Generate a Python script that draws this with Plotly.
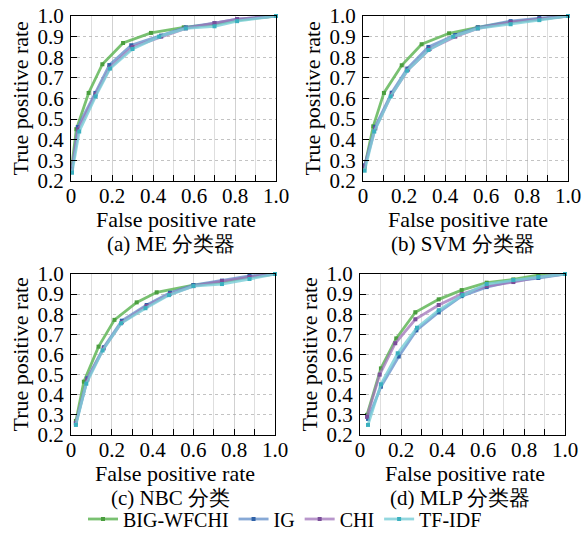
import plotly.graph_objects as go

# page body margin is removed (see post_script), so figure == window
OFF = 0
W, H = 587, 537

series_names = ["BIG-WFCHI", "IG", "CHI", "TF-IDF"]
line_colors = ["rgba(98,182,88,0.85)", "rgba(95,140,200,0.75)", "rgba(160,115,185,0.75)", "rgba(120,205,215,0.8)"]
marker_colors = ["#4a9e3e", "#2f62a8", "#7b4f99", "#3bb0bf"]

me_fpr = {
    "BIG-WFCHI": [0.005, 0.026, 0.086, 0.153, 0.254, 0.39, 0.55, 0.70, 0.81, 1.0],
    "IG":        [0.005, 0.033, 0.119, 0.187, 0.294, 0.44, 0.56, 0.70, 0.81, 1.0],
    "CHI":       [0.005, 0.035, 0.120, 0.190, 0.300, 0.44, 0.56, 0.70, 0.81, 1.0],
    "TF-IDF":    [0.005, 0.040, 0.120, 0.190, 0.300, 0.43, 0.56, 0.70, 0.81, 1.0],
}
me_tpr = {
    "BIG-WFCHI": [0.28, 0.451, 0.627, 0.766, 0.869, 0.918, 0.945, 0.960, 0.980, 1.0],
    "IG":        [0.25, 0.462, 0.627, 0.762, 0.858, 0.905, 0.945, 0.965, 0.985, 1.0],
    "CHI":       [0.26, 0.450, 0.620, 0.750, 0.850, 0.900, 0.940, 0.965, 0.985, 1.0],
    "TF-IDF":    [0.24, 0.440, 0.610, 0.745, 0.840, 0.900, 0.940, 0.950, 0.975, 1.0],
}
svm_fpr = {
    "BIG-WFCHI": [0.008, 0.050, 0.102, 0.189, 0.286, 0.42, 0.56, 0.72, 0.86, 1.0],
    "IG":        [0.008, 0.059, 0.140, 0.216, 0.319, 0.45, 0.56, 0.72, 0.86, 1.0],
    "CHI":       [0.008, 0.060, 0.140, 0.220, 0.325, 0.45, 0.56, 0.72, 0.86, 1.0],
    "TF-IDF":    [0.008, 0.055, 0.135, 0.215, 0.320, 0.44, 0.56, 0.72, 0.86, 1.0],
}
svm_tpr = {
    "BIG-WFCHI": [0.27, 0.465, 0.627, 0.761, 0.863, 0.916, 0.945, 0.970, 0.985, 1.0],
    "IG":        [0.276, 0.462, 0.628, 0.745, 0.850, 0.908, 0.945, 0.975, 0.990, 1.0],
    "CHI":       [0.27, 0.455, 0.620, 0.740, 0.840, 0.900, 0.940, 0.970, 0.985, 1.0],
    "TF-IDF":    [0.25, 0.440, 0.610, 0.735, 0.835, 0.900, 0.940, 0.960, 0.980, 1.0],
}
nbc_fpr = {
    "BIG-WFCHI": [0.024, 0.063, 0.135, 0.213, 0.322, 0.42, 0.60, 0.74, 0.875, 1.0],
    "IG":        [0.024, 0.080, 0.161, 0.249, 0.371, 0.485, 0.60, 0.74, 0.875, 1.0],
    "CHI":       [0.024, 0.080, 0.160, 0.250, 0.370, 0.485, 0.60, 0.74, 0.875, 1.0],
    "TF-IDF":    [0.024, 0.075, 0.155, 0.245, 0.365, 0.480, 0.60, 0.74, 0.875, 1.0],
}
nbc_tpr = {
    "BIG-WFCHI": [0.27, 0.465, 0.639, 0.772, 0.859, 0.909, 0.945, 0.960, 0.985, 1.0],
    "IG":        [0.258, 0.482, 0.636, 0.768, 0.846, 0.907, 0.945, 0.967, 0.990, 1.0],
    "CHI":       [0.26, 0.475, 0.630, 0.760, 0.840, 0.900, 0.940, 0.965, 0.985, 1.0],
    "TF-IDF":    [0.25, 0.455, 0.620, 0.755, 0.830, 0.895, 0.940, 0.950, 0.975, 1.0],
}
mlp_fpr = {
    "BIG-WFCHI": [0.034, 0.102, 0.177, 0.270, 0.384, 0.496, 0.618, 0.748, 0.87, 1.0],
    "IG":        [0.039, 0.102, 0.189, 0.275, 0.384, 0.496, 0.618, 0.748, 0.87, 1.0],
    "CHI":       [0.034, 0.096, 0.172, 0.270, 0.384, 0.496, 0.618, 0.748, 0.87, 1.0],
    "TF-IDF":    [0.039, 0.102, 0.184, 0.278, 0.384, 0.500, 0.618, 0.748, 0.87, 1.0],
}
mlp_tpr = {
    "BIG-WFCHI": [0.30, 0.531, 0.680, 0.810, 0.874, 0.920, 0.957, 0.973, 0.995, 1.0],
    "IG":        [0.28, 0.440, 0.590, 0.720, 0.810, 0.890, 0.935, 0.965, 0.980, 1.0],
    "CHI":       [0.29, 0.500, 0.656, 0.775, 0.846, 0.900, 0.940, 0.960, 0.985, 1.0],
    "TF-IDF":    [0.25, 0.452, 0.606, 0.733, 0.820, 0.895, 0.950, 0.970, 0.985, 1.0],
}

captions = ["(a) ME 分类器", "(b) SVM 分类器", "(c) NBC 分类", "(d) MLP 分类器"]
x_title = "False positive rate"
y_title = "True positive rate"
x_tickvals = [0, 0.2, 0.4, 0.6, 0.8, 1.0]
x_ticktext = ["0", "0.2", "0.4", "0.6", "0.8", "1.0"]
y_tickvals = [0.2, 0.3, 0.4, 0.5, 0.6, 0.7, 0.8, 0.9, 1.0]
y_ticktext = ["0.2", "0.3", "0.4", "0.5", "0.6", "0.7", "0.8", "0.9", "1.0"]

panels = [(me_fpr, me_tpr), (svm_fpr, svm_tpr), (nbc_fpr, nbc_tpr), (mlp_fpr, mlp_tpr)]
# panel boxes in window pixels: left, right, top, bottom
boxes = [(71, 276, 16, 181), (363, 568, 16, 181), (71, 275, 274, 435), (360, 565, 274, 435)]

FONT = "Liberation Serif, Times New Roman, serif"
TICK_SIZE = 21
TITLE_SIZE = 22
CAP_SIZE = 21
LEG_SIZE = 20

def px(x):
    return (x - OFF) / W

def py(y):
    return 1 - (y - OFF) / H

fig = go.Figure()
layout_axes = {}
annotations = []
for i, ((fx, ty), (l, r, t, b)) in enumerate(zip(panels, boxes)):
    n = i + 1
    xa = "xaxis" if n == 1 else f"xaxis{n}"
    ya = "yaxis" if n == 1 else f"yaxis{n}"
    xr = "x" if n == 1 else f"x{n}"
    yr = "y" if n == 1 else f"y{n}"
    for k, name in enumerate(series_names):
        fig.add_trace(go.Scatter(
            x=fx[name], y=ty[name], mode="lines+markers", name=name,
            xaxis=xr, yaxis=yr, showlegend=(i == 0), cliponaxis=False,
            line=dict(color=line_colors[k], width=2.8),
            marker=dict(symbol="square", size=4, color=marker_colors[k]),
        ))
    layout_axes[xa] = dict(
        domain=[px(l), px(r)], range=[0, 1], anchor=yr,
        tickvals=x_tickvals, ticktext=x_ticktext, ticks="inside", ticklen=6,
        tickcolor="black", showline=True, linecolor="black", linewidth=1.2, mirror=True,
        showgrid=True, gridcolor="rgba(200,200,200,0.6)", gridwidth=1,
        minor=dict(dtick=0.1, tick0=0, ticks="inside", ticklen=6, tickcolor="black",
                   showgrid=True, gridcolor="rgba(200,200,200,0.6)"),
        tickfont=dict(family=FONT, size=TICK_SIZE, color="black"), zeroline=False,
        ticklabelstandoff=-4, ticklabeloverflow="allow", automargin=False,
    )
    layout_axes[ya] = dict(
        domain=[py(b), py(t)], range=[0.2, 1.0], anchor=xr,
        tickvals=y_tickvals, ticktext=y_ticktext, ticks="inside", ticklen=6,
        tickcolor="black", showline=True, linecolor="black", linewidth=1.2, mirror=True,
        showgrid=True, gridcolor="rgba(170,170,170,0.7)", griddash="dot", gridwidth=1,
        tickfont=dict(family=FONT, size=TICK_SIZE, color="black"), zeroline=False,
        ticklabelstandoff=2, ticklabeloverflow="allow", automargin=False,
    )
    cx = (l + r) / 2
    annotations.append(dict(text=x_title, x=px(cx + 2), y=py(b + 38), xref="paper", yref="paper",
                            showarrow=False, xanchor="center", yanchor="middle",
                            font=dict(family=FONT, size=TITLE_SIZE, color="black")))
    annotations.append(dict(text=captions[i], x=px(cx - 3), y=py(b + 63), xref="paper", yref="paper",
                            showarrow=False, xanchor="center", yanchor="middle",
                            font=dict(family=FONT, size=CAP_SIZE, color="black")))
    annotations.append(dict(text=y_title, x=px(l - 51), y=py((t + b) / 2), xref="paper", yref="paper",
                            showarrow=False, xanchor="center", yanchor="middle", textangle=-90,
                            font=dict(family=FONT, size=TITLE_SIZE, color="black")))

fig.update_layout(
    width=W, height=H, margin=dict(l=0, r=0, t=0, b=0, autoexpand=False),
    paper_bgcolor="white", plot_bgcolor="white",
    font=dict(family=FONT, size=20, color="black"),
    annotations=annotations,
    legend=dict(orientation="h", x=px(285), xanchor="center", y=py(519), yanchor="middle",
                font=dict(family=FONT, size=LEG_SIZE, color="black"), itemwidth=30,
                bgcolor="rgba(0,0,0,0)", tracegroupgap=0),
    **layout_axes,
)

fig.write_html(
    "out.html",
    config={"displayModeBar": False},
    post_script="document.body.style.margin='0';document.body.style.overflow='hidden';",
)
